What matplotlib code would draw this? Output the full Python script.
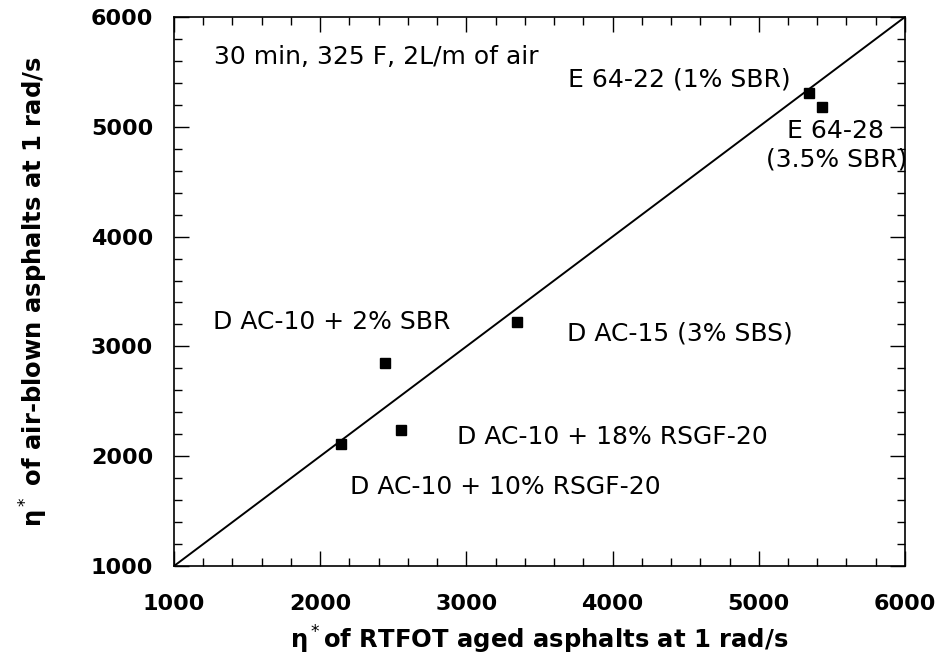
import matplotlib
matplotlib.use("Agg")
from matplotlib import pyplot as plt
from matplotlib.ticker import MultipleLocator

# RTFOT aged vs air-blown complex viscosity at 1 rad/s
rtfot = [2145, 2555, 2445, 3345, 5345, 5430]
airblown = [2110, 2240, 2850, 3220, 5310, 5180]

labels = ["30 min, 325 F, 2L/m of air",
          "E 64-22 (1% SBR)",
          "E 64-28",
          "(3.5% SBR)",
          "D AC-10 + 2% SBR",
          "D AC-15 (3% SBS)",
          "D AC-10 + 18% RSGF-20",
          "D AC-10 + 10% RSGF-20"]
# label anchors (data units) and horizontal alignment
lab_x = [1275, 5215, 5190, 6015, 1265, 3690, 2935, 2205]
lab_y = [5635, 5435, 4960, 4705, 3225, 3120, 2175, 1720]
lab_ha = ["left", "right", "left", "right", "left", "left", "left", "left"]

plt.rcParams['font.family'] = ['DejaVu Sans']
plt.rcParams['mathtext.fontset'] = 'dejavusans'

fig = plt.figure(figsize=(9.37, 6.59), dpi=100)
ax = fig.add_axes([0.1857, 0.1411, 0.7801, 0.8331])

ax.plot([1000, 6000], [1000, 6000], color='black', linewidth=1.4)
ax.plot(rtfot, airblown, linestyle='none', marker='s',
        markersize=7.5, color='black')

for t, x, y, ha in zip(labels, lab_x, lab_y, lab_ha):
    ax.text(x, y, t, ha=ha, va='center', fontsize=18, color='black')

ax.set_xlim(1000, 6000)
ax.set_ylim(1000, 6000)
ax.xaxis.set_major_locator(MultipleLocator(1000))
ax.yaxis.set_major_locator(MultipleLocator(1000))
ax.xaxis.set_minor_locator(MultipleLocator(200))
ax.yaxis.set_minor_locator(MultipleLocator(200))
ax.tick_params(which='both', direction='in', top=True, right=True,
               labelsize=16, width=1)
ax.tick_params(axis='x', which='both', pad=20)
ax.tick_params(axis='y', which='both', pad=15)
ax.tick_params(which='major', length=11)
ax.tick_params(which='minor', length=6)
for lab in ax.get_xticklabels() + ax.get_yticklabels():
    lab.set_fontweight('bold')
for s in ax.spines.values():
    s.set_linewidth(1.2)

ax.set_xlabel(r"η$^*$of RTFOT aged asphalts at 1 rad/s",
              fontsize=17.5, fontweight='bold')
ax.set_ylabel(r"η$^*$ of air-blown asphalts at 1 rad/s",
              fontsize=17.5, fontweight='bold')
ax.xaxis.set_label_coords(0.5, -0.106)
ax.yaxis.set_label_coords(-0.17, 0.5)

plt.savefig("out.png", dpi=100)
